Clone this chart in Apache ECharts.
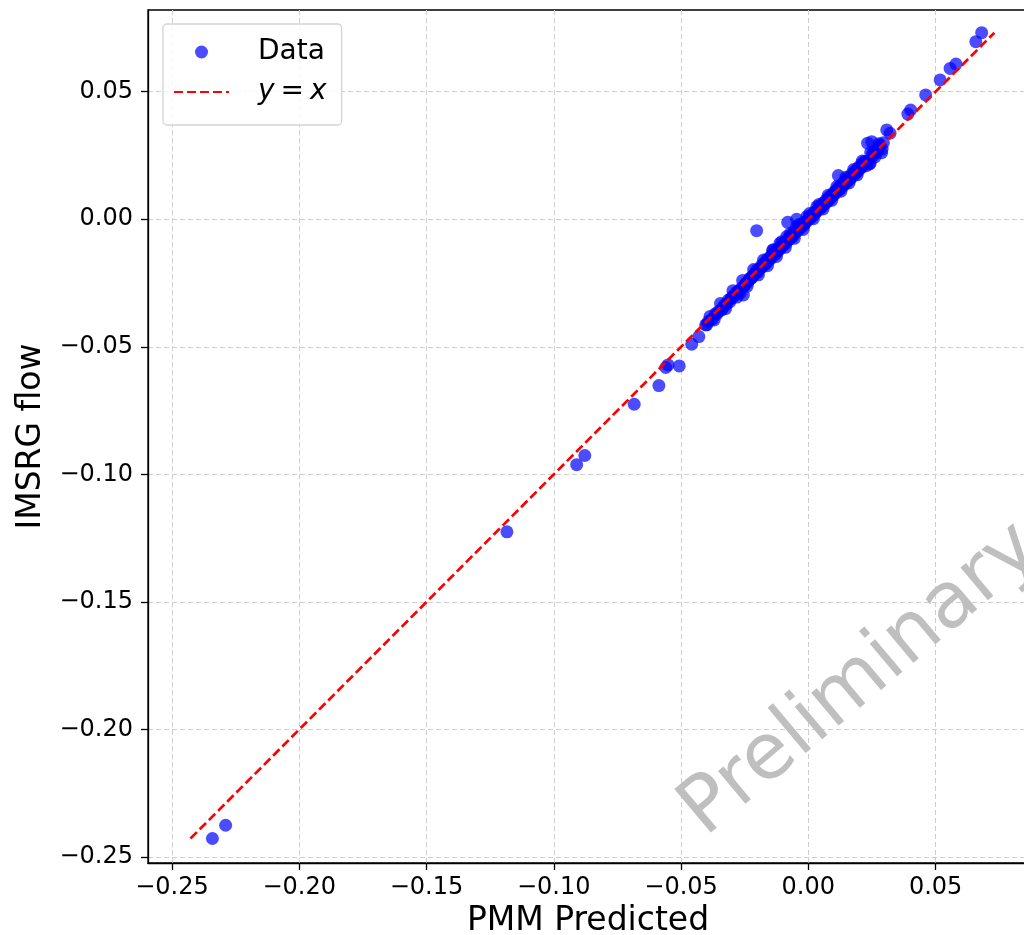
<!DOCTYPE html>
<html>
<head>
<meta charset="utf-8">
<script src="https://cdn.jsdelivr.net/npm/echarts@6/dist/echarts.min.js"></script>
<style>
html,body{margin:0;padding:0;background:#fff;}
#chart{width:1024px;height:935px;}
</style>
</head>
<body>
<div id="chart"></div>
<script>
// ---- Data ----
const pmmPredicted = [
  -0.2341,-0.2289,-0.1184,-0.0910,-0.0878,-0.0684,-0.0587,-0.0560,-0.0551,-0.0507,
  -0.0458,-0.0430,-0.0403,-0.0203,
  0.0681,0.0658,0.0580,0.0557,0.0518,0.0461,0.0391,0.0402,0.0308,0.0321,
  0.0233,0.0249,0.0288,0.0240,0.0275,0.0118,-0.0081,-0.0046,
  -0.0399,-0.0386,-0.0378,-0.0365,-0.0352,-0.0340,-0.0331,-0.0322,-0.0315,-0.0308,
  -0.0300,-0.0292,-0.0285,-0.0276,-0.0268,-0.0262,-0.0255,-0.0251,-0.0244,-0.0238,
  -0.0232,-0.0229,-0.0224,-0.0218,-0.0212,-0.0207,-0.0203,-0.0198,
  -0.0193,-0.0188,-0.0183,-0.0178,-0.0172,-0.0168,-0.0163,-0.0158,-0.0153,-0.0148,
  -0.0143,-0.0138,-0.0134,-0.0129,-0.0124,-0.0119,-0.0114,-0.0111,-0.0106,-0.0101,
  -0.0096,-0.0091,-0.0085,-0.0082,-0.0077,-0.0072,-0.0067,-0.0062,-0.0057,-0.0052,
  -0.0046,-0.0043,-0.0038,-0.0033,-0.0028,-0.0023,-0.0018,-0.0013,-0.0006,-0.0004,
  0.0002,0.0007,0.0012,0.0017,0.0022,0.0027,0.0033,0.0035,0.0040,0.0045,
  0.0050,0.0055,0.0060,0.0065,0.0070,0.0075,0.0080,0.0085,0.0090,0.0095,
  0.0100,0.0105,0.0110,0.0115,0.0120,0.0125,0.0130,0.0135,0.0140,0.0145,
  0.0150,0.0155,0.0160,0.0165,0.0170,0.0175,0.0180,0.0185,0.0190,0.0195,
  0.0200,0.0205,0.0210,0.0215,0.0220,0.0225,0.0243,0.0252,0.0260,0.0268,
  0.0282,0.0295,
  -0.0370,-0.0345,-0.0325,-0.0296,-0.0280,-0.0258,-0.0240,-0.0215,-0.0196,-0.0176,
  -0.0160,-0.0140,-0.0125,-0.0104,-0.0090,-0.0070,-0.0055,-0.0035,-0.0020,0.0005,
  0.0020,0.0042,0.0058,0.0078,0.0092,0.0112,0.0128,0.0148,0.0160,0.0178,
  0.0192,0.0212,0.0228,0.0245,0.0262,0.0278,0.0290,
  -0.0392,-0.0360,-0.0335,-0.0305,-0.0272,-0.0248,-0.0222,-0.0186,-0.0166,-0.0146,
  -0.0127,-0.0108,-0.0088,-0.0064,-0.0040,-0.0016,0.0010,0.0030,0.0052,0.0072,
  0.0098,0.0122,0.0143,0.0167,0.0187,0.0207,0.0230,0.0256
];
const imsrgFlow = [
  -0.2427,-0.2375,-0.1225,-0.0962,-0.0926,-0.0725,-0.0652,-0.0581,-0.0571,-0.0575,
  -0.0490,-0.0460,-0.0414,-0.0045,
  0.0731,0.0696,0.0608,0.0591,0.0546,0.0487,0.0412,0.0428,0.0350,0.0337,
  0.0298,0.0304,0.0261,0.0217,0.0278,0.0171,-0.0012,0.0000,
  -0.0414,-0.0381,-0.0392,-0.0370,-0.0361,-0.0355,-0.0338,-0.0333,-0.0318,-0.0323,
  -0.0306,-0.0301,-0.0289,-0.0284,-0.0290,-0.0270,-0.0297,-0.0259,-0.0250,-0.0246,
  -0.0237,-0.0231,-0.0232,-0.0221,-0.0218,-0.0211,-0.0199,-0.0206,
  -0.0195,-0.0192,-0.0180,-0.0184,-0.0171,-0.0175,-0.0159,-0.0164,-0.0150,-0.0155,
  -0.0140,-0.0120,-0.0139,-0.0127,-0.0130,-0.0115,-0.0119,-0.0094,-0.0107,-0.0104,
  -0.0093,-0.0096,-0.0068,-0.0085,-0.0074,-0.0077,-0.0063,-0.0066,-0.0052,-0.0056,
  -0.0029,-0.0045,-0.0034,-0.0036,-0.0023,-0.0027,-0.0014,-0.0017,0.0010,-0.0006,
  0.0004,0.0003,0.0015,0.0013,0.0026,0.0023,0.0049,0.0034,0.0043,0.0041,
  0.0054,0.0051,0.0065,0.0061,0.0075,0.0070,0.0085,0.0080,0.0094,0.0090,
  0.0105,0.0100,0.0114,0.0110,0.0126,0.0120,0.0135,0.0129,0.0146,0.0140,
  0.0156,0.0149,0.0165,0.0159,0.0176,0.0169,0.0186,0.0179,0.0195,0.0189,
  0.0206,0.0199,0.0216,0.0210,0.0226,0.0221,0.0219,0.0255,0.0265,0.0262,
  0.0290,0.0300,
  -0.0395,-0.0330,-0.0350,-0.0280,-0.0305,-0.0240,-0.0262,-0.0197,-0.0218,-0.0160,
  -0.0182,-0.0122,-0.0146,-0.0088,-0.0110,-0.0055,-0.0075,-0.0020,-0.0040,0.0022,
  0.0002,0.0058,0.0040,0.0094,0.0074,0.0128,0.0110,0.0165,0.0142,0.0195,
  0.0174,0.0228,0.0210,0.0262,0.0244,0.0296,0.0275,
  -0.0400,-0.0372,-0.0346,-0.0312,-0.0279,-0.0256,-0.0228,-0.0190,-0.0169,-0.0149,
  -0.0133,-0.0112,-0.0091,-0.0069,-0.0041,-0.0020,0.0008,0.0028,0.0047,0.0067,
  0.0095,0.0117,0.0137,0.0162,0.0183,0.0203,0.0226,0.0250
];
const identityEnds = [-0.2427, 0.0731];
const xTicks = [-0.25, -0.20, -0.15, -0.10, -0.05, 0.00, 0.05];
const yTicks = [-0.25, -0.20, -0.15, -0.10, -0.05, 0.00, 0.05];
const xRange = [-0.2594, 0.0863];
const yRange = [-0.2523, 0.0820];

// ---- Build ----
const scatterData = pmmPredicted.map((x, i) => [x, imsrgFlow[i]]);
const lineData = identityEnds.map(v => [v, v]);
const FONT = '"DejaVu Sans", sans-serif';
const fmt = v => (v < 0 ? '\u2212' : '') + Math.abs(v).toFixed(2);

const chart = echarts.init(document.getElementById('chart'), null, {renderer: 'canvas'});
const deg = 40 * Math.PI / 180;
chart.setOption({
  animation: false,
  backgroundColor: '#ffffff',
  grid: {
    left: 148, top: 10, right: -4, bottom: 72,
    outerBoundsMode: 'none', containLabel: false,
    show: true, borderColor: '#000', borderWidth: 1.3, backgroundColor: 'transparent'
  },
  xAxis: {
    type: 'value', min: xRange[0], max: xRange[1], splitNumber: 7,
    name: 'PMM Predicted', nameLocation: 'middle', nameGap: 41,
    nameTextStyle: {fontSize: 33, fontFamily: FONT, color: '#000'},
    axisLine: {show: true, onZero: false, lineStyle: {color: '#000', width: 1.3}},
    axisTick: {show: true, length: 7, lineStyle: {color: '#000', width: 1.3}, customValues: xTicks},
    axisLabel: {customValues: xTicks, formatter: fmt, fontSize: 24, fontFamily: FONT, color: '#000', margin: 13},
    splitLine: {show: true, lineStyle: {type: [5, 3], color: '#cfcfcf', width: 1}}
  },
  yAxis: {
    type: 'value', min: yRange[0], max: yRange[1], splitNumber: 7,
    name: 'IMSRG flow', nameLocation: 'middle', nameGap: 100, nameRotate: 90,
    nameTextStyle: {fontSize: 33, fontFamily: FONT, color: '#000'},
    axisLine: {show: true, onZero: false, lineStyle: {color: '#000', width: 1.3}},
    axisTick: {show: true, length: 7, lineStyle: {color: '#000', width: 1.3}, customValues: yTicks},
    axisLabel: {customValues: yTicks, formatter: fmt, fontSize: 24, fontFamily: FONT, color: '#000', margin: 15},
    splitLine: {show: true, lineStyle: {type: [5, 3], color: '#cfcfcf', width: 1}}
  },
  legend: {
    orient: 'vertical', left: 163, top: 24,
    padding: [14, 15, 19, 10],
    itemGap: 12, itemWidth: 55, itemHeight: 13,
    backgroundColor: 'rgba(255,255,255,0.8)', borderColor: '#d3d3d3', borderWidth: 1.3, borderRadius: 4,
    data: [{name: 'Data'}, {name: 'y = x', itemStyle: {opacity: 0}}],
    formatter: name => name === 'Data' ? '{pad|}Data' : '{pad|}{it|y}{sp|}={sp|}{it|x}',
    textStyle: {
      fontSize: 28, fontFamily: FONT, color: '#000', lineHeight: 28,
      rich: {
        pad: {width: 24},
        sp: {width: 6},
        it: {fontStyle: 'italic', fontSize: 28, fontFamily: FONT, color: '#000'}
      }
    }
  },
  graphic: [{
    type: 'text', x: 692, y: 822, rotation: deg, silent: true, z: 100,
    style: {
      text: 'Preliminary', font: '78px "DejaVu Sans", sans-serif',
      fill: '#bfbfbf', textAlign: 'left', textVerticalAlign: 'middle', verticalAlign: 'middle'
    }
  }],
  series: [
    {
      name: 'Data', type: 'scatter', data: scatterData, symbol: 'circle', symbolSize: 13,
      itemStyle: {color: 'rgba(0,0,255,0.7)', opacity: 1}, z: 3
    },
    {
      name: 'y = x', type: 'line', data: lineData, symbol: 'none', z: 4,
      lineStyle: {color: '#ff0000', width: 2.7, type: [9, 4]},
      itemStyle: {color: '#ff0000'}
    }
  ]
});
</script>
</body>
</html>
